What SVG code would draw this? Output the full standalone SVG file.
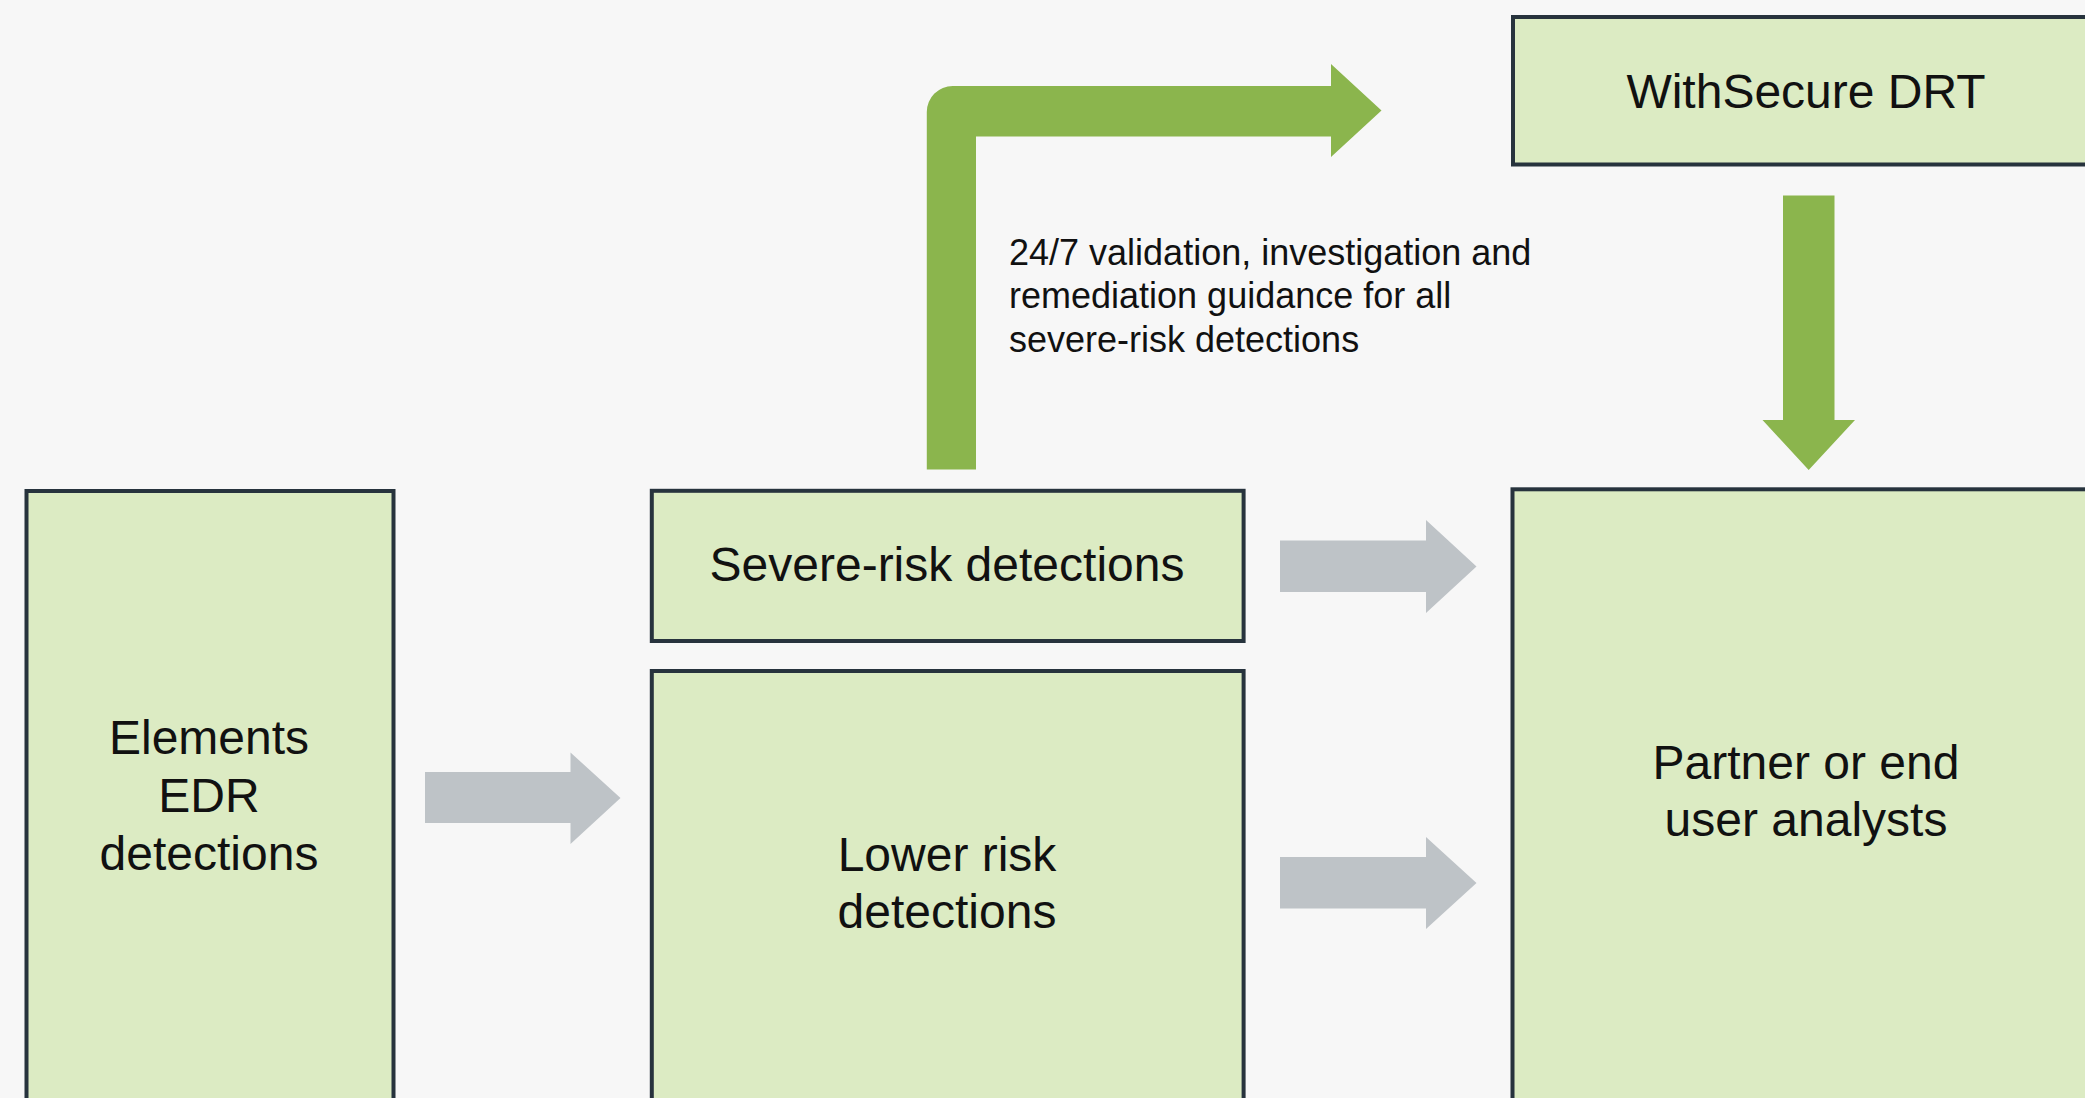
<svg xmlns="http://www.w3.org/2000/svg" width="2085" height="1098" viewBox="0 0 2085 1098">
<style>
.box{fill:#dcebc3;stroke:#27333d;stroke-width:4}
.lbl{font-family:"Liberation Sans",Arial,sans-serif;font-size:48px;fill:#111;text-anchor:middle}
.note{font-family:"Liberation Sans",Arial,sans-serif;font-size:36px;fill:#111}
.green{fill:#8bb54d}
.grey{fill:#bec3c7}
</style>
<rect x="0" y="0" width="2085" height="1098" fill="#f7f7f7"/>
<g id="connectors">
<path class="green" d="M926.8,469.4 L926.8,112 A26,26 0 0 1 952.8,86 L1331,86 L1331,64 L1381.5,110.5 L1331,157 L1331,136.5 L976,136.5 L976,469.4 Z"/>
<path class="green" d="M1783,195.5 L1834.5,195.5 L1834.5,420 L1855,420 L1808.7,470 L1762.5,420 L1783,420 Z"/>
<path class="grey" d="M425,772 L570.5,772 L570.5,752.5 L620.5,798 L570.5,844 L570.5,823 L425,823 Z"/>
<path class="grey" d="M1280,540.5 L1426,540.5 L1426,520 L1476.5,566.5 L1426,613 L1426,592 L1280,592 Z"/>
<path class="grey" d="M1280,857 L1426,857 L1426,837 L1476.5,883 L1426,929 L1426,908.5 L1280,908.5 Z"/>
<text class="note" x="1009" y="265">24/7 validation, investigation and</text>
<text class="note" x="1009" y="308">remediation guidance for all</text>
<text class="note" x="1009" y="351.5">severe-risk detections</text>
</g>
<g id="elements-edr">
<rect class="box" x="26.5" y="491" width="367" height="640"/>
<text class="lbl" x="209" y="754">Elements</text>
<text class="lbl" x="209" y="812">EDR</text>
<text class="lbl" x="209" y="870">detections</text>
</g>
<g id="severe-risk">
<rect class="box" x="651.8" y="490.8" width="591.8" height="150.2"/>
<text class="lbl" x="947" y="581">Severe-risk detections</text>
</g>
<g id="lower-risk">
<rect class="box" x="651.8" y="671" width="591.8" height="460"/>
<text class="lbl" x="947" y="870.5">Lower risk</text>
<text class="lbl" x="947" y="928">detections</text>
</g>
<g id="withsecure-drt">
<rect class="box" x="1513" y="17" width="620" height="147.5"/>
<text class="lbl" x="1806" y="107.5">WithSecure DRT</text>
</g>
<g id="partner">
<rect class="box" x="1512.5" y="489.3" width="620" height="660"/>
<text class="lbl" x="1806" y="778.5">Partner or end</text>
<text class="lbl" x="1806" y="836">user analysts</text>
</g>
</svg>
